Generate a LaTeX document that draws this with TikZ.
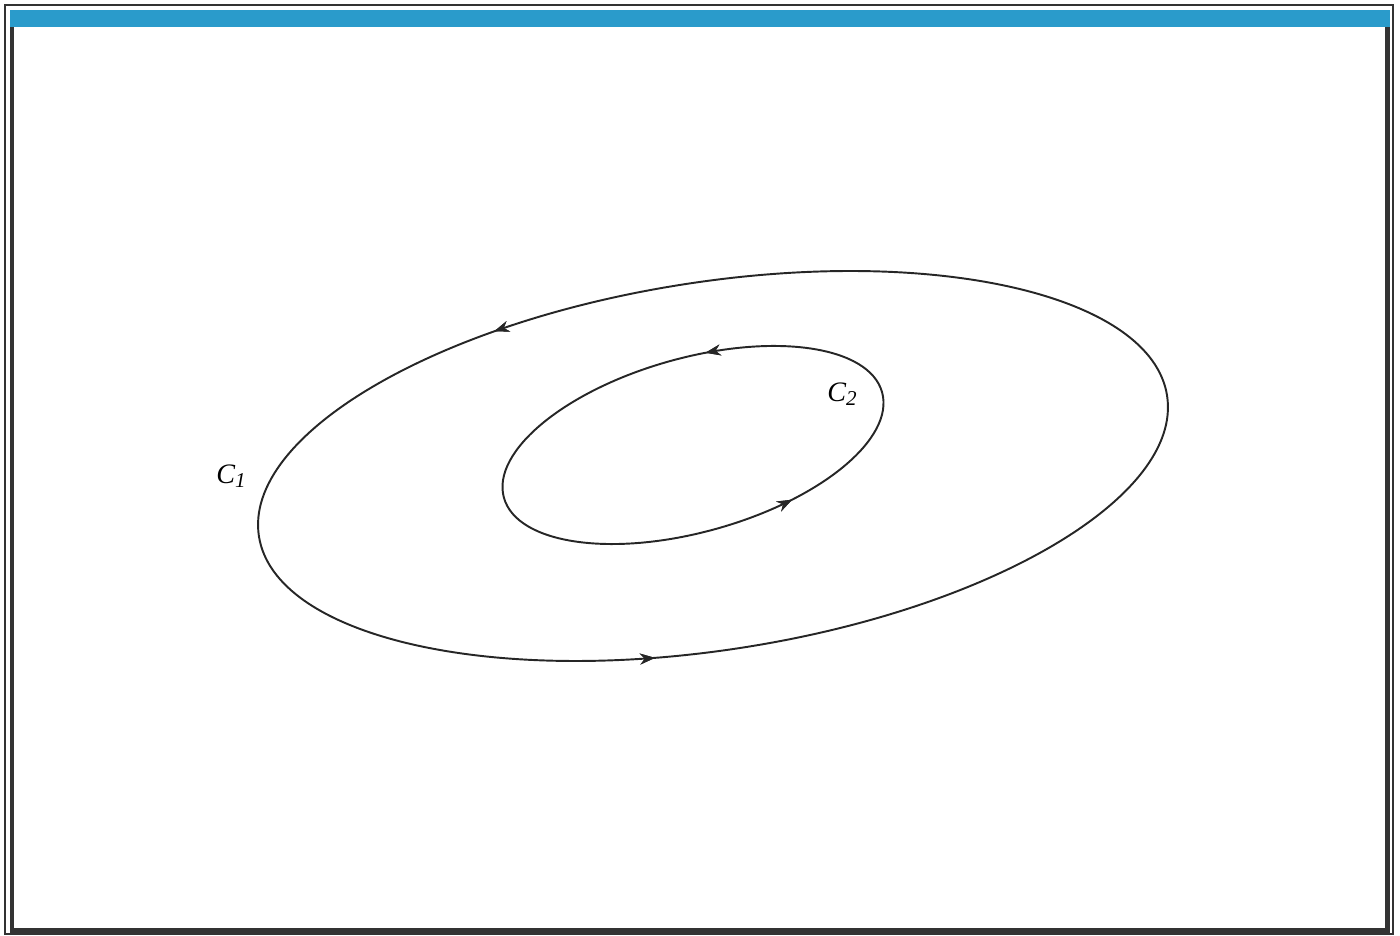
\documentclass[tikz,border=0pt]{standalone}
\usepackage{fontspec}
\setmainfont{Liberation Serif}
\usepackage{xcolor}
\usetikzlibrary{arrows.meta,decorations.markings}
\definecolor{barblue}{HTML}{2A9BCB}
\definecolor{framegray}{HTML}{333333}

\begin{document}
\begin{tikzpicture}[
    curve/.style={draw=black!85, line width=0.55pt},
    cname/.style={font=\fontsize{8}{9}\selectfont\itshape, inner sep=0pt},
    flow/.style={postaction={decorate}, decoration={markings,
        mark=at position #1 with {\arrow{Stealth[length=1.5mm, width=1.1mm]}}}}
]
    \useasboundingbox (0,0) rectangle (14,9.35);
    % frame
    \draw[framegray, line width=0.5pt] (0.05,0.01) rectangle (13.93,9.30);
    \draw[framegray, line width=1.3pt] (0.12,0.045) rectangle (13.875,9.2);
    \fill[barblue] (0.10,9.08) rectangle (13.90,9.25);
    % outer contour
    \draw[curve, rotate around={8.8:(7.13,4.69)}, flow=0.343, flow=0.709]
        (7.13,4.69) ellipse (4.595 and 1.84);
    % inner contour
    \draw[curve, rotate around={15.6:(6.93,4.90)}, flow=0.21, flow=0.838]
        (6.93,4.90) ellipse (1.963 and 0.87);
    \node[cname] (c1) at (2.32,4.59) {C\textsubscript{1}};
    \node[cname] (c2) at (8.43,5.41) {C\textsubscript{2}};
\end{tikzpicture}
\end{document}
